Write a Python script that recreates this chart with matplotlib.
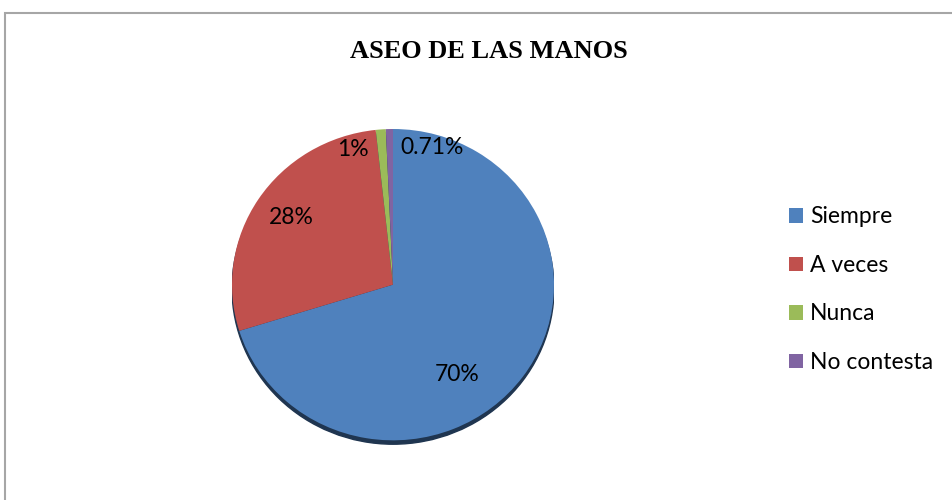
import matplotlib
matplotlib.use("Agg")
import matplotlib.pyplot as plt
from matplotlib.patches import Rectangle, Circle

categories = ["Siempre", "A veces", "Nunca", "No contesta"]
values = [70, 28, 1, 0.71]
pct_labels = ["70%", "28%", "1%", "0.71%"]
colors = ["#4F81BD", "#C0504D", "#9BBB59", "#8064A2"]
# label positions in pie-radius units
label_pos = [(0.40, -0.58), (-0.63, 0.43), (-0.25, 0.87), (0.24, 0.88)]

fig = plt.figure(figsize=(9.53, 5.0), dpi=100)

# chart area border (runs off the right and bottom edges)
fig.patches.append(Rectangle((5 / 953, -0.05), 1.2, 1 - 13 / 500 + 0.05,
                             transform=fig.transFigure, fill=False,
                             edgecolor="#A6A6A6", linewidth=1.5))

fig.text(0.513, 0.898, "ASEO DE LAS MANOS", ha="center", va="center",
         family="Liberation Serif", fontweight="bold", fontsize=19)

ax = fig.add_axes([(393 - 161) / 953, (500 - 287 - 158) / 500, 322 / 953, 316 / 500])
ax.add_patch(Circle((0.0, -0.025), 1.0, color="#1F3550", zorder=0))
wedges, _ = ax.pie(values, colors=colors, startangle=90, counterclock=False,
                   radius=1.0, wedgeprops=dict(linewidth=0))
for txt, (x, y) in zip(pct_labels, label_pos):
    ax.text(x, y, txt, ha="center", va="center", family="Lato", fontsize=16.5)
ax.set_xlim(-1, 1)
ax.set_ylim(-1.03, 1)
ax.set_aspect("auto")
ax.axis("off")

fig.legend(wedges, categories, loc="upper left", bbox_to_anchor=(778 / 953, 1 - 195 / 500),
           frameon=False, prop=dict(family="Lato", size=16.5),
           handlelength=0.6, handleheight=0.6, handletextpad=0.3,
           labelspacing=1.2, borderpad=0)

fig.savefig("out.png", dpi=100)
